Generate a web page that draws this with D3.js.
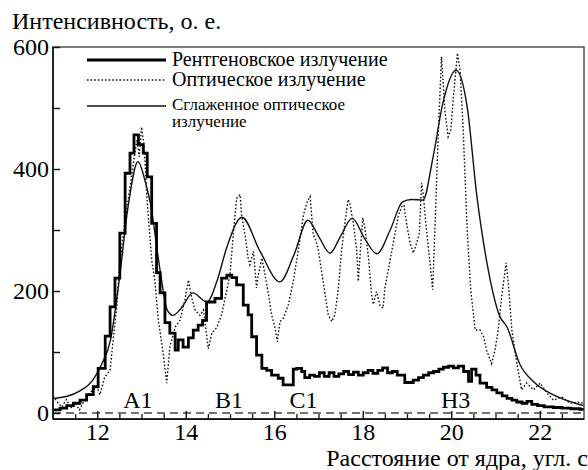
<!DOCTYPE html>
<html><head><meta charset="utf-8">
<script src="https://cdn.jsdelivr.net/npm/d3@7"></script>
</head><body style="margin:0">
<div id="wrap" style="position:relative;width:588px;height:470px;background:#fff"></div>
<script>
// ---- data ----
const yTitle = "Интенсивность, о. е.";
const xTitle = "Расстояние от ядра, угл. с";
const legendLabels = ["Рентгеновское излучение", "Оптическое излучение", ["Сглаженное оптическое", "излучение"]];
const regionNames = ["A1", "B1", "C1", "H3"];
const regionPos = [12.92, 14.98, 16.66, 20.1];
const xTickLabels = [12, 14, 16, 18, 20, 22];
const yTickLabels = [0, 200, 400, 600];

const xrayX = [11.00,11.16,11.31,11.46,11.61,11.76,11.91,12.02,12.18,12.29,12.40,12.51,12.63,12.74,12.83,12.93,13.04,13.13,13.23,13.34,13.42,13.53,13.64,13.76,13.83,13.94,14.06,14.17,14.28,14.38,14.47,14.66,14.81,14.93,15.04,15.15,15.30,15.41,15.49,15.60,15.72,15.83,15.94,16.09,16.20,16.43,16.51,16.62,16.69,16.80,16.91,17.02,17.13,17.24,17.35,17.46,17.57,17.68,17.79,17.90,18.01,18.12,18.23,18.34,18.45,18.56,18.67,18.78,18.95,19.14,19.26,19.37,19.49,19.60,19.72,19.82,19.94,20.05,20.16,20.28,20.39,20.46,20.56,20.65,20.80,20.92,21.03,21.15,21.26,21.37,21.48,21.60,21.71,21.82,21.95,22.10,22.31,22.50,22.70,22.91,23.00];
const xrayY = [5,8,12,16,21,30,43,73,126,174,221,295,393,426,456,440,426,387,311,230,197,148,131,103,120,108,123,136,144,152,182,188,221,226,222,210,177,161,125,95,73,70,62,57,46,72,73,68,58,62,60,66,60,66,60,64,68,63,67,62,66,70,65,70,74,66,68,62,50,54,58,62,66,68,72,75,77,74,77,68,52,72,62,49,42,38,33,28,24,21,18,16,19,14,12,10,9,8,7,6,6];

const opticalX = [11.00,11.10,11.20,11.30,11.40,11.50,11.60,11.70,11.80,11.90,11.99,12.06,12.17,12.29,12.36,12.44,12.51,12.63,12.74,12.85,12.90,12.95,13.00,13.06,13.13,13.23,13.30,13.38,13.49,13.57,13.64,13.76,13.87,13.98,14.06,14.13,14.21,14.32,14.40,14.51,14.59,14.70,14.81,14.92,15.00,15.08,15.15,15.23,15.26,15.34,15.41,15.45,15.53,15.60,15.64,15.72,15.79,15.87,15.94,16.02,16.07,16.13,16.21,16.32,16.43,16.54,16.66,16.75,16.81,16.85,16.88,16.92,16.99,17.07,17.15,17.22,17.30,17.37,17.45,17.52,17.60,17.67,17.71,17.79,17.86,17.90,17.95,18.00,18.05,18.13,18.20,18.24,18.31,18.39,18.46,18.50,18.62,18.73,18.80,18.88,18.93,18.99,19.07,19.14,19.22,19.28,19.33,19.37,19.44,19.52,19.58,19.63,19.71,19.78,19.86,19.93,19.99,20.05,20.14,20.20,20.27,20.36,20.44,20.54,20.65,20.73,20.80,20.91,20.99,21.06,21.14,21.24,21.29,21.37,21.48,21.59,21.70,21.86,22.01,22.16,22.31,22.50,22.68,22.91,23.00];
const opticalY = [28,18,10,22,8,16,5,20,30,38,43,30,59,70,120,174,246,316,370,426,448,420,469,437,344,251,218,152,98,49,108,141,152,185,218,190,169,160,169,105,131,140,161,199,227,298,352,358,325,292,254,243,265,205,227,254,227,194,161,139,117,150,156,178,216,265,325,347,355,320,292,287,270,232,194,161,150,161,205,265,314,350,344,309,270,216,270,320,303,254,194,178,199,176,172,205,251,295,322,338,341,311,279,262,279,295,377,355,300,246,202,300,464,584,492,453,464,519,590,562,464,300,202,136,136,125,103,81,103,136,191,246,213,136,82,38,49,38,49,33,21,26,16,18,15];

const smoothX = [11.0,11.3,11.6,11.9,12.1,12.3,12.5,12.7,12.92,13.1,13.2,13.42,13.58,13.71,13.9,14.16,14.48,14.7,14.93,15.27,15.68,16.13,16.45,16.76,17.0,17.26,17.5,17.76,18.05,18.32,18.62,18.9,19.1,19.36,19.59,19.81,20.11,20.36,20.58,20.81,21.1,21.26,21.55,21.85,22.3,22.9,23.0];
const smoothY = [24,27,36,54,80,120,220,340,412,375,344,234,169,160,172,197,182,215,272,321,265,215,260,316,290,262,290,319,285,261,300,346,350,349,420,508,562,502,355,245,158,141,80,52,30,14,12];

// ---- drawing ----
const W = 588, H = 470;
const FF = "Liberation Serif";
const wrap = d3.select("#wrap");
// graphics layer
const svg = wrap.append("svg").attr("width", W).attr("height", H)
  .style("position", "absolute").style("left", "0px").style("top", "0px");
// text layer (separate svg on top)
const tsvg = wrap.append("svg").attr("width", W).attr("height", H)
  .style("position", "absolute").style("left", "0px").style("top", "0px");

function serif(sel) { return sel.attr("font-family", FF).style("font-family", `"${FF}"`).attr("fill", "#000"); }

const x = d3.scaleLinear().domain([11, 23]).range([53, 584]);
const y = d3.scaleLinear().domain([0, 600]).range([413, 47]);
const frameBottom = y(-10);

svg.append("clipPath").attr("id", "pc").append("rect")
  .attr("x", x(11)).attr("y", y(600) - 20).attr("width", x(23) - x(11)).attr("height", frameBottom - y(600) + 20);

const plot = svg.append("g").attr("clip-path", "url(#pc)");

// dashed zero line
plot.append("line").attr("x1", x(11)).attr("x2", x(23)).attr("y1", y(0)).attr("y2", y(0))
  .attr("stroke", "#444").attr("stroke-width", 1.3).attr("stroke-dasharray", "8,5");

const opt = opticalX.map((v, i) => [v, opticalY[i]]);
const sm = smoothX.map((v, i) => [v, smoothY[i]]);
const xr = xrayX.map((v, i) => [v, xrayY[i]]);

plot.append("path").datum(opt)
  .attr("d", d3.line().x(d => x(d[0])).y(d => y(d[1])))
  .attr("fill", "none").attr("stroke", "#111").attr("stroke-width", 1.4).attr("stroke-dasharray", "1.6,2");

plot.append("path").datum(sm)
  .attr("d", d3.line().x(d => x(d[0])).y(d => y(d[1])).curve(d3.curveMonotoneX))
  .attr("fill", "none").attr("stroke", "#111").attr("stroke-width", 1.4);

plot.append("path").datum(xr)
  .attr("d", d3.line().x(d => x(d[0])).y(d => y(d[1])).curve(d3.curveStepAfter))
  .attr("fill", "none").attr("stroke", "#000").attr("stroke-width", 2.8).attr("stroke-linejoin", "miter");

// frame
svg.append("rect").attr("x", x(11)).attr("y", y(600)).attr("width", x(23) - x(11)).attr("height", frameBottom - y(600))
  .attr("fill", "none").attr("stroke", "#444").attr("stroke-width", 1.4);
svg.append("line").attr("x1", x(11)).attr("x2", x(11)).attr("y1", y(600)).attr("y2", frameBottom)
  .attr("stroke", "#111").attr("stroke-width", 1.6);
svg.append("line").attr("x1", x(11)).attr("x2", x(23)).attr("y1", frameBottom).attr("y2", frameBottom)
  .attr("stroke", "#111").attr("stroke-width", 1.6);

// y axis ticks (graphics layer) + labels (text layer)
const yTicks = d3.axisLeft(y).tickValues(d3.range(0, 601, 100)).tickSize(-7).tickFormat("");
const gy = svg.append("g").attr("transform", `translate(${x(11)},0)`).call(yTicks);
gy.select(".domain").remove();
gy.selectAll(".tick line").attr("stroke", "#111").attr("stroke-width", 1.4);
const yLab = d3.axisLeft(y).tickValues(yTickLabels).tickSize(0).tickPadding(4);
const gyl = tsvg.append("g").attr("transform", `translate(${x(11)},0)`).call(yLab);
gyl.attr("font-family", FF);
gyl.select(".domain").remove();
gyl.selectAll(".tick line").remove();
serif(gyl.selectAll(".tick text")).attr("font-size", 24);

// x axis ticks
const xMinor = d3.axisBottom(x).tickValues(d3.range(11.5, 23, 0.5).filter(v => v % 2 !== 0)).tickSize(-5).tickFormat("");
const gxm = svg.append("g").attr("transform", `translate(0,${frameBottom})`).call(xMinor);
gxm.select(".domain").remove();
gxm.selectAll(".tick line").attr("stroke", "#111").attr("stroke-width", 1.3);
const xMajor = d3.axisBottom(x).tickValues(xTickLabels).tickSize(-8).tickFormat("");
const gx = svg.append("g").attr("transform", `translate(0,${frameBottom})`).call(xMajor);
gx.select(".domain").remove();
gx.selectAll(".tick line").attr("stroke", "#111").attr("stroke-width", 1.4);
const xLab = d3.axisBottom(x).tickValues(xTickLabels).tickSize(0).tickPadding(4);
const gxl = tsvg.append("g").attr("transform", `translate(0,${frameBottom})`).call(xLab);
gxl.attr("font-family", FF);
gxl.select(".domain").remove();
gxl.selectAll(".tick line").remove();
serif(gxl.selectAll(".tick text")).attr("font-size", 24);

// region labels
serif(tsvg.selectAll("text.reg").data(regionNames).enter().append("text"))
  .attr("x", (d, i) => x(regionPos[i])).attr("y", 408).attr("text-anchor", "middle")
  .attr("font-size", 24).text(d => d);

// titles
serif(tsvg.append("text")).attr("x", 12).attr("y", 29).attr("font-size", 24).text(yTitle);
serif(tsvg.append("text")).attr("x", 588).attr("y", 466).attr("text-anchor", "end").attr("font-size", 24).text(xTitle);

// legend
const lx1 = 87, lx2 = 166, tx = 172;
svg.append("line").attr("x1", lx1).attr("x2", lx2).attr("y1", 60).attr("y2", 60).attr("stroke", "#000").attr("stroke-width", 2.8);
svg.append("line").attr("x1", lx1).attr("x2", lx2).attr("y1", 80).attr("y2", 80).attr("stroke", "#111").attr("stroke-width", 1.4).attr("stroke-dasharray", "1.6,2");
svg.append("line").attr("x1", lx1).attr("x2", lx2).attr("y1", 106).attr("y2", 106).attr("stroke", "#111").attr("stroke-width", 1.4);
serif(tsvg.append("text")).attr("x", tx).attr("y", 66).attr("font-size", 20).text(legendLabels[0]);
serif(tsvg.append("text")).attr("x", tx).attr("y", 86).attr("font-size", 20).text(legendLabels[1]);
serif(tsvg.append("text")).attr("x", tx).attr("y", 110).attr("font-size", 17).text(legendLabels[2][0]);
serif(tsvg.append("text")).attr("x", tx).attr("y", 127).attr("font-size", 17).text(legendLabels[2][1]);
</script>
</body></html>
